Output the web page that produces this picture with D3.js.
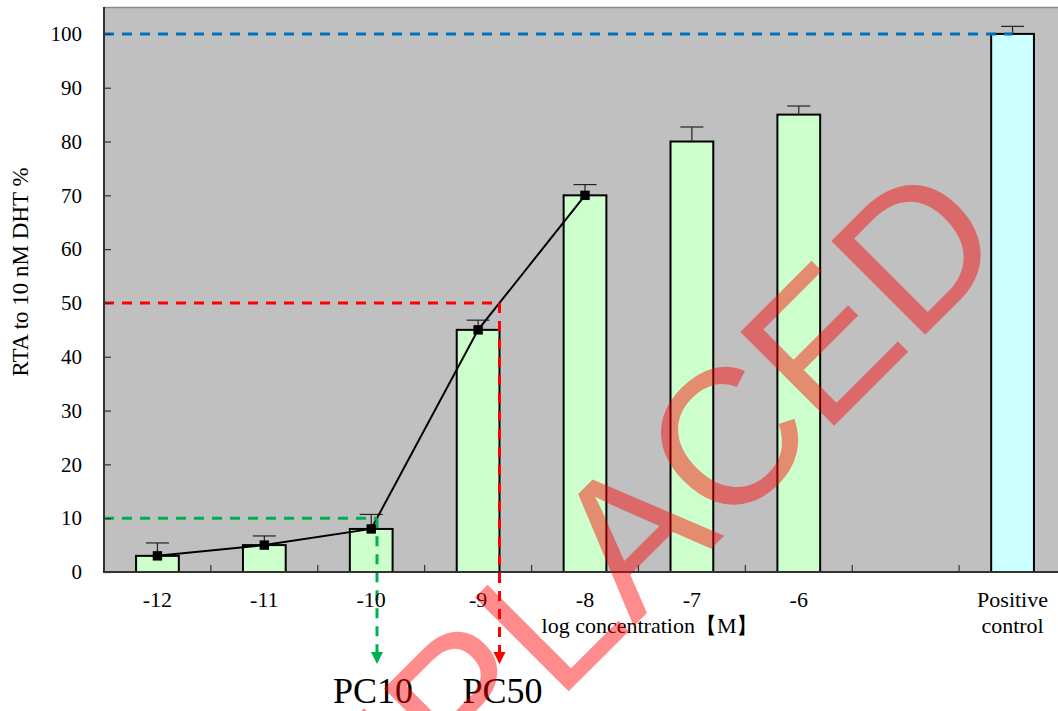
<!DOCTYPE html>
<html>
<head>
<meta charset="utf-8">
<script src="https://cdn.jsdelivr.net/npm/d3@7"></script>
<style>
  html, body { margin: 0; padding: 0; background: #fff; }
  svg { display: block; }
  text { font-family: "Liberation Serif", "Times New Roman", serif; fill: #000; }
</style>
</head>
<body>
<svg id="chart" width="1058" height="711"></svg>
<script>
// Concentration groups (log M); the blank slot separates the positive control
const categories = ["-12", "-11", "-10", "-9", "-8", "-7", "-6", "", "Positive control"];
// Mean response, % of 10 nM DHT
const values = [3, 5, 8, 45, 70, 80, 85, null, 100];
// Upper error (SD)
const errors = [2.4, 1.7, 2.7, 1.8, 2.0, 2.7, 1.6, null, 1.4];
// Concentrations joined by the response curve
const curveCategories = ["-12", "-11", "-10", "-9", "-8"];
// Reference levels
const pc10Level = 10;
const pc50Level = 50;
const controlLevel = 100;
const yTicks = [0, 10, 20, 30, 40, 50, 60, 70, 80, 90, 100];

const svg = d3.select("#chart");
const plotLeft = 104, plotRight = 1066, plotTop = 7, plotBottom = 572;

const x = d3.scaleBand().domain(categories).range([plotLeft, plotRight]).padding(0);
const y = d3.scaleLinear().domain([0, 105]).range([plotBottom, plotTop]);
const bw = x.bandwidth() * 0.4;
const cx = c => x(c) + x.bandwidth() / 2;

// plot area
svg.append("rect")
  .attr("x", plotLeft).attr("y", plotTop)
  .attr("width", plotRight - plotLeft).attr("height", plotBottom - plotTop)
  .attr("fill", "#c0c0c0");
svg.append("line")
  .attr("x1", plotLeft).attr("x2", plotRight).attr("y1", plotTop + 0.5).attr("y2", plotTop + 0.5)
  .attr("stroke", "#8c8c8c").attr("stroke-width", 1.5);

const rows = categories.map((c, i) => ({ c, v: values[i], e: errors[i] })).filter(d => d.v != null);

// bars
svg.append("g").selectAll("rect").data(rows).join("rect")
  .attr("x", d => cx(d.c) - bw / 2)
  .attr("y", d => y(d.v))
  .attr("width", bw)
  .attr("height", d => y(0) - y(d.v))
  .attr("fill", d => d.c === "Positive control" ? "#ccffff" : "#ccffcc")
  .attr("stroke", "#000").attr("stroke-width", 2);

// error bars
const eg = svg.append("g").attr("stroke", "#222").attr("stroke-width", 1.2);
rows.forEach(d => {
  eg.append("line").attr("x1", cx(d.c)).attr("x2", cx(d.c)).attr("y1", y(d.v)).attr("y2", y(d.v + d.e));
  eg.append("line").attr("x1", cx(d.c) - 11.5).attr("x2", cx(d.c) + 11.5).attr("y1", y(d.v + d.e)).attr("y2", y(d.v + d.e));
});

// response curve
const curve = curveCategories.map(c => ({ px: cx(c), py: y(values[categories.indexOf(c)]), v: values[categories.indexOf(c)] }));

// x position where the curve reaches a given level
function crossing(level) {
  for (let i = 0; i < curve.length - 1; i++) {
    const a = curve[i], b = curve[i + 1];
    if ((a.v - level) * (b.v - level) <= 0 && a.v !== b.v) {
      return a.px + (b.px - a.px) * (level - a.v) / (b.v - a.v);
    }
  }
  return null;
}
const xPC10 = crossing(pc10Level);
const xPC50 = crossing(pc50Level);
const arrowY = 664;

// reference dashed lines
const dash = "10,8";
svg.append("line")
  .attr("x1", plotLeft).attr("x2", cx("Positive control")).attr("y1", y(controlLevel)).attr("y2", y(controlLevel))
  .attr("stroke", "#0070c0").attr("stroke-width", 3).attr("stroke-dasharray", dash);

function guide(level, xc, color) {
  svg.append("line")
    .attr("x1", plotLeft).attr("x2", xc).attr("y1", y(level)).attr("y2", y(level))
    .attr("stroke", color).attr("stroke-width", 3).attr("stroke-dasharray", dash);
  svg.append("line")
    .attr("x1", xc).attr("x2", xc).attr("y1", y(level)).attr("y2", arrowY - 10)
    .attr("stroke", color).attr("stroke-width", 3).attr("stroke-dasharray", dash);
  svg.append("path")
    .attr("d", `M${xc - 6},${arrowY - 12}L${xc + 6},${arrowY - 12}L${xc},${arrowY}Z`)
    .attr("fill", color);
}

svg.append("path")
  .datum(curve)
  .attr("d", d3.line().x(d => d.px).y(d => d.py))
  .attr("fill", "none").attr("stroke", "#000").attr("stroke-width", 2);

guide(pc10Level, xPC10, "#00b050");
guide(pc50Level, xPC50, "#ff0000");

svg.append("g").selectAll("rect").data(curve).join("rect")
  .attr("x", d => d.px - 4.7).attr("y", d => d.py - 4.7)
  .attr("width", 9.4).attr("height", 9.4).attr("fill", "#000");

// y axis
const yAxis = svg.append("g").attr("transform", `translate(${plotLeft},0)`)
  .call(d3.axisLeft(y).tickValues(yTicks).tickSize(-7).tickSizeOuter(0).tickPadding(22));
yAxis.select(".domain").remove();
yAxis.selectAll(".tick line").attr("stroke", "#333").attr("stroke-width", 1.2);
yAxis.selectAll(".tick text").attr("font-size", 21).attr("fill", "#000")
  .attr("font-family", "Liberation Serif");
svg.append("line").attr("x1", plotLeft).attr("x2", plotLeft).attr("y1", plotTop).attr("y2", plotBottom + 1)
  .attr("stroke", "#333").attr("stroke-width", 2);

// x axis
svg.append("line").attr("x1", plotLeft).attr("x2", plotRight).attr("y1", plotBottom).attr("y2", plotBottom)
  .attr("stroke", "#333").attr("stroke-width", 2);
const xg = svg.append("g");
categories.slice(1).forEach(c => {
  xg.append("line").attr("x1", x(c)).attr("x2", x(c)).attr("y1", plotBottom).attr("y2", plotBottom - 7)
    .attr("stroke", "#333").attr("stroke-width", 1.2);
});
categories.forEach(c => {
  if (!c) return;
  const t = svg.append("text").attr("x", cx(c)).attr("y", 607)
    .attr("text-anchor", "middle").attr("font-size", 22);
  const words = c.split(" ");
  words.forEach((w, i) => t.append("tspan").attr("x", cx(c)).attr("dy", i === 0 ? 0 : 26).text(w));
});

// axis titles
svg.append("text").attr("x", 650).attr("y", 633).attr("text-anchor", "middle")
  .attr("font-size", 22).text("log concentration【M】");
svg.append("text")
  .attr("transform", `translate(28,272) rotate(-90)`)
  .attr("text-anchor", "middle").attr("font-size", 23)
  .text("RTA to 10 nM DHT %");

// PC labels
svg.append("text").attr("x", xPC10 - 4).attr("y", 703).attr("text-anchor", "middle")
  .attr("font-size", 36).text("PC10");
svg.append("text").attr("x", xPC50 + 3).attr("y", 703).attr("text-anchor", "middle")
  .attr("font-size", 36).text("PC50");

// stamp
svg.append("text")
  .attr("transform", "translate(277,983) rotate(-45)")
  .attr("font-size", 193)
  .style("font-family", "'Liberation Sans', Arial, sans-serif")
  .style("fill", "rgba(255,0,0,0.45)")
  .text("REPLACED");
</script>
</body>
</html>
